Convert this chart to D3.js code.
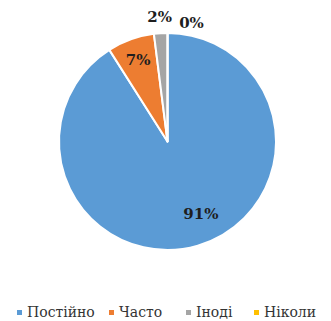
<!DOCTYPE html>
<html>
<head>
<meta charset="utf-8">
<script src="https://cdn.jsdelivr.net/npm/d3@7"></script>
<style>
  body { margin: 0; background: #fff; }
  svg { display: block; }
</style>
</head>
<body>
<div id="chart"></div>
<script>
var width = 331, height = 321;

// data
var categories = ["Постійно", "Часто", "Іноді", "Ніколи"];
var values = [91, 7, 2, 0];
var labels = ["91%", "7%", "2%", "0%"];
var colors = ["#5b9bd5", "#ed7d31", "#a5a5a5", "#ffc000"];

var cx = 167.5, cy = 141.5, radius = 108.5;

var svg = d3.select("#chart")
  .append("svg")
    .attr("width", width)
    .attr("height", height);

var pie = d3.pie()
    .value(function(d){ return d; })
    .sort(null);

var arcs = pie(values);

var arc = d3.arc()
    .innerRadius(0)
    .outerRadius(radius);

var g = svg.append("g")
    .attr("transform", "translate(" + cx + "," + cy + ")");

g.selectAll(".slice")
  .data(arcs)
  .enter().append("path")
    .attr("class", "slice")
    .attr("d", arc)
    .attr("fill", function(d, i){ return colors[i]; })
    .attr("stroke", "#fff")
    .attr("stroke-width", 2)
    .attr("stroke-linejoin", "round");

// label placement: fraction of radius, plus a small nudge (Excel best fit)
var labelRadius = [0.74, 0.8, 1.15, 1.13];
var labelNudge = [[11, -5], [0, 0], [0, 0], [24, 4]];

g.selectAll(".lbl")
  .data(arcs)
  .enter().append("text")
    .attr("class", "lbl")
    .attr("transform", function(d, i){
      var r = radius * labelRadius[i];
      var c = d3.arc().innerRadius(r).outerRadius(r).centroid(d);
      return "translate(" + (c[0] + labelNudge[i][0]) + "," + (c[1] + labelNudge[i][1]) + ")";
    })
    .attr("text-anchor", "middle")
    .attr("dy", "0.36em")
    .style("font-family", "'DejaVu Serif', serif")
    .style("font-weight", "bold")
    .style("font-size", "15px")
    .style("fill", "#1e1e1e")
    .text(function(d, i){ return labels[i]; });

// legend
var legendX = [17, 109, 186, 254];
var legend = svg.append("g")
    .attr("transform", "translate(0,317)");

var item = legend.selectAll(".leg")
  .data(categories)
  .enter().append("g")
    .attr("class", "leg")
    .attr("transform", function(d, i){ return "translate(" + legendX[i] + ",0)"; });

item.append("rect")
    .attr("x", 0)
    .attr("y", -7)
    .attr("width", 5)
    .attr("height", 5)
    .attr("fill", function(d, i){ return colors[i]; });

item.append("text")
    .attr("x", 10)
    .attr("y", 0)
    .style("font-family", "'DejaVu Serif', serif")
    .style("font-size", "14px")
    .style("fill", "#333")
    .text(function(d){ return d; });
</script>
</body>
</html>
